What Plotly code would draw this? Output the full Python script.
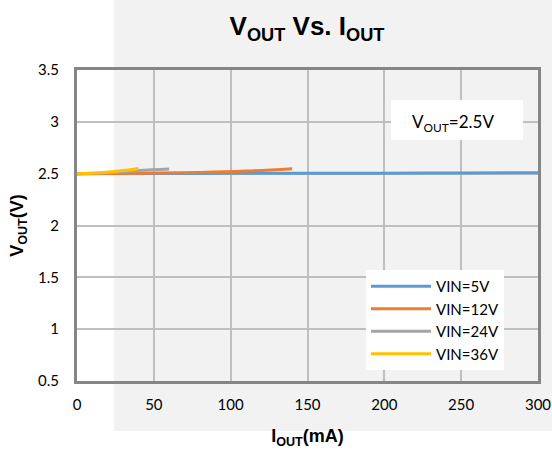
import plotly.graph_objects as go

# Data
x_5v = [0, 50, 100, 150, 200, 250, 300]
y_5v = [2.50, 2.502, 2.503, 2.504, 2.505, 2.507, 2.51]
x_12v = [0, 40, 80, 110, 140]
y_12v = [2.50, 2.505, 2.512, 2.525, 2.548]
x_24v = [0, 20, 40, 60]
y_24v = [2.50, 2.51, 2.53, 2.545]
x_36v = [0, 15, 30, 40]
y_36v = [2.50, 2.51, 2.53, 2.55]

series = [
    ("VIN=5V", x_5v, y_5v, "#5B9BD5"),
    ("VIN=12V", x_12v, y_12v, "#ED7D31"),
    ("VIN=24V", x_24v, y_24v, "#A5A5A5"),
    ("VIN=36V", x_36v, y_36v, "#FFC000"),
]

W, H = 552, 455
L, R, T, B = 77, 14, 70, 74
PW, PH = W - L - R, H - T - B


def px(xp):
    return (xp - L) / PW


def py(yp):
    return (H - B - yp) / PH


fig = go.Figure()
for name, xs, ys, col in series:
    fig.add_trace(go.Scatter(x=xs, y=ys, mode="lines", name=name,
                             line=dict(color=col, width=3, shape="spline")))

font = "Liberation Sans Narrow, Arial Narrow, Liberation Sans, Arial"
tfont = "Lato, Open Sans, Liberation Sans, Arial"

fig.update_layout(
    width=W, height=H,
    margin=dict(l=L, r=R, t=T, b=B),
    paper_bgcolor="white",
    plot_bgcolor="rgba(0,0,0,0)",
    showlegend=True,
    title=dict(text="<b>V<sub>OUT</sub> Vs. I<sub>OUT</sub></b>", x=307 / W, xanchor="center",
               xref="container", yref="container",
               y=1 - 26 / H, yanchor="middle",
               font=dict(family=font, size=26, color="black")),
    legend=dict(x=px(366), y=py(270),
                xanchor="left", yanchor="top",
                bgcolor="white", font=dict(family=tfont, size=15, color="black"),
                tracegroupgap=0, itemwidth=60,
                traceorder="normal"),
    xaxis=dict(range=[0, 300], dtick=50, showgrid=True, gridcolor="#BFBFBF", gridwidth=1.5,
               zeroline=False, showline=True, linecolor="#868686", linewidth=3, mirror=True,
               ticks="", ticklabelstandoff=8, automargin=False,
               tickfont=dict(family=tfont, size=15, color="black"),
               title=dict(text="<b>I<sub>OUT</sub>(mA)</b>", standoff=18,
                          font=dict(family=font, size=18, color="black"))),
    yaxis=dict(range=[0.5, 3.5], dtick=0.5, showgrid=True, gridcolor="#BFBFBF", gridwidth=1.5,
               zeroline=False, showline=True, linecolor="#868686", linewidth=3, mirror=True,
               ticks="", ticklabelstandoff=12, automargin=False,
               tickfont=dict(family=tfont, size=15, color="black"),
               title=dict(text="<b>V<sub>OUT</sub>(V)</b>", standoff=10,
                          font=dict(family=font, size=18, color="black"))),
)

# faint watermark background
fig.add_shape(type="rect", xref="paper", yref="paper",
              x0=px(114), x1=px(W), y0=py(431), y1=py(0),
              fillcolor="#F2F2F2", line=dict(width=0), layer="below")

# white box behind the label
fig.add_shape(type="rect", xref="paper", yref="paper",
              x0=px(391), x1=px(523), y0=py(140), y1=py(100),
              fillcolor="white", line=dict(width=0), layer="above")

fig.add_annotation(x=px(453), y=py(123), xref="paper", yref="paper",
                   xanchor="center", yanchor="middle",
                   text="V<sub>OUT</sub>=2.5V", showarrow=False,
                   font=dict(family=tfont, size=17, color="black"))

fig.write_html("out.html", config={"displayModeBar": False},
               post_script="document.body.style.margin='0';")
